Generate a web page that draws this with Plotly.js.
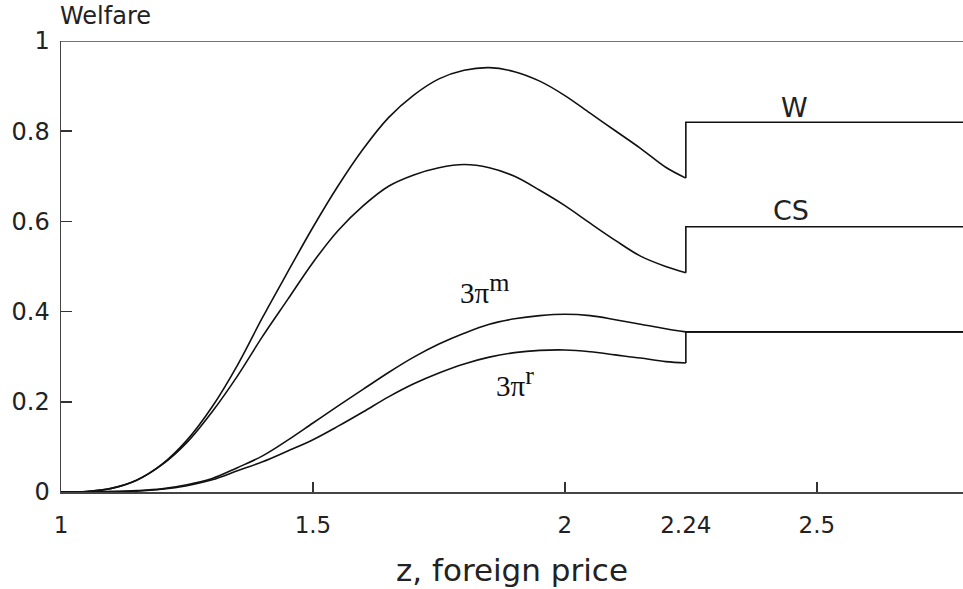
<!DOCTYPE html>
<html>
<head>
<meta charset="utf-8">
<script src="https://cdn.plot.ly/plotly-3.0.1.min.js"></script>
<style>html,body{margin:0;padding:0;background:#fff}#chart{width:963px;height:589px}</style>
</head>
<body>
<div id="chart"></div>
<script>
// ---- data ----
const zJump = 2.24;
const zEnd = 2.79;

const zGrid = [1.00,1.05,1.10,1.15,1.20,1.25,1.30,1.35,1.40,1.45,1.50,1.55,1.60,1.65,1.70,1.75,1.80,1.85,1.90,1.95,2.00,2.05,2.10,2.15,2.20,2.24];

const W  = [0,0.001,0.008,0.026,0.061,0.115,0.189,0.281,0.387,0.488,0.587,0.679,0.761,0.830,0.880,0.916,0.935,0.941,0.932,0.911,0.879,0.840,0.801,0.762,0.720,0.696];
const W_after = 0.820;

const CS = [0,0.001,0.008,0.026,0.060,0.110,0.178,0.257,0.345,0.427,0.509,0.580,0.635,0.678,0.703,0.719,0.726,0.719,0.700,0.669,0.635,0.596,0.558,0.523,0.500,0.486];
const CS_after = 0.588;

const Pm = [0,0,0.001,0.003,0.007,0.016,0.030,0.054,0.080,0.115,0.153,0.191,0.228,0.265,0.299,0.328,0.352,0.372,0.384,0.391,0.394,0.391,0.382,0.372,0.362,0.355];
const Pm_after = 0.355;

const Pr = [0,0,0.001,0.002,0.006,0.014,0.027,0.047,0.067,0.091,0.116,0.146,0.178,0.211,0.240,0.264,0.284,0.299,0.309,0.314,0.315,0.311,0.304,0.297,0.289,0.286];
const Pr_after = 0.355;

const xTickVals = [1, 1.5, 2, 2.24, 2.5];
const xTickText = ['1', '1.5', '2', '2.24', '2.5'];
const xTickMarks = [1.5, 2, 2.5];
const yTickVals = [0, 0.2, 0.4, 0.6, 0.8, 1];
const yTickText = ['0', '0.2', '0.4', '0.6', '0.8', '1'];

// ---- build traces ----
const lineStyle = {color: '#111', width: 1.6};
function curve(z, v) {
  return {x: z, y: v, type: 'scatter', mode: 'lines', line: Object.assign({shape: 'spline', smoothing: 1}, lineStyle), hoverinfo: 'skip', showlegend: false};
}
function tail(vEnd, vAfter) {
  return {x: [zJump, zJump, zEnd], y: [vEnd, vAfter, vAfter], type: 'scatter', mode: 'lines', line: Object.assign({shape: 'linear'}, lineStyle), hoverinfo: 'skip', showlegend: false};
}
const traces = [
  curve(zGrid, W), tail(W[W.length-1], W_after),
  curve(zGrid, CS), tail(CS[CS.length-1], CS_after),
  curve(zGrid, Pm), tail(Pm[Pm.length-1], Pm_after),
  curve(zGrid, Pr), tail(Pr[Pr.length-1], Pr_after),
  {x: [1], y: [0], xaxis: 'x2', type: 'scatter', mode: 'markers', marker: {opacity: 0}, hoverinfo: 'skip', showlegend: false}
];

const sans = 'DejaVu Sans, Liberation Sans, sans-serif';
const serif = 'Liberation Serif, DejaVu Serif, serif';

const layout = {
  width: 963, height: 589,
  margin: {l: 61, r: 0, t: 41, b: 97},
  paper_bgcolor: '#fff', plot_bgcolor: '#fff',
  showlegend: false,
  xaxis: {
    range: [1, zEnd], tickvals: xTickVals, ticktext: xTickText, ticks: '',
    showline: true, linecolor: '#444', linewidth: 1.5, showgrid: false, zeroline: false,
    tickfont: {family: sans, size: 23, color: '#222'}, ticklabelstandoff: 12,
    title: {text: 'z, foreign price', font: {family: sans, size: 31, color: '#222'}, standoff: 22}
  },
  xaxis2: {
    overlaying: 'x', anchor: 'y', side: 'bottom', range: [1, zEnd],
    tickvals: xTickMarks, ticks: 'inside', ticklen: 10, tickwidth: 1.5, tickcolor: '#333',
    showticklabels: false, showline: false, showgrid: false, zeroline: false
  },
  yaxis: {
    range: [0, 1], tickvals: yTickVals, ticktext: yTickText, ticks: 'inside', ticklen: 11, tickwidth: 1.5, tickcolor: '#333',
    showline: true, linecolor: '#444', linewidth: 1.5, showgrid: false, zeroline: false,
    tickfont: {family: sans, size: 24, color: '#222'}, ticklabelstandoff: 5
  },
  shapes: [
    {type: 'line', xref: 'paper', yref: 'y', x0: 0, x1: 1, y0: 1, y1: 1, line: {color: '#444', width: 1.5}}
  ],
  annotations: [
    {text: 'Welfare', xref: 'paper', yref: 'paper', x: 0, y: 1.055, xanchor: 'left', yanchor: 'middle', xshift: -3, showarrow: false, font: {family: sans, size: 24, color: '#222'}},
    {text: 'W', xref: 'x', yref: 'y', x: 2.456, y: 0.853, showarrow: false, font: {family: sans, size: 27, color: '#222'}},
    {text: 'CS', xref: 'x', yref: 'y', x: 2.448, y: 0.625, showarrow: false, font: {family: sans, size: 27, color: '#222'}},
    {text: '3π<sup><span style="font-size:26px">m</span></sup>', xref: 'x', yref: 'y', x: 1.841, y: 0.452, showarrow: false, font: {family: serif, size: 29, color: '#111'}},
    {text: '3π<sup><span style="font-size:26px">r</span></sup>', xref: 'x', yref: 'y', x: 1.901, y: 0.246, showarrow: false, font: {family: serif, size: 29, color: '#111'}}
  ]
};

Plotly.newPlot('chart', traces, layout, {staticPlot: true, displayModeBar: false});
</script>
</body>
</html>
